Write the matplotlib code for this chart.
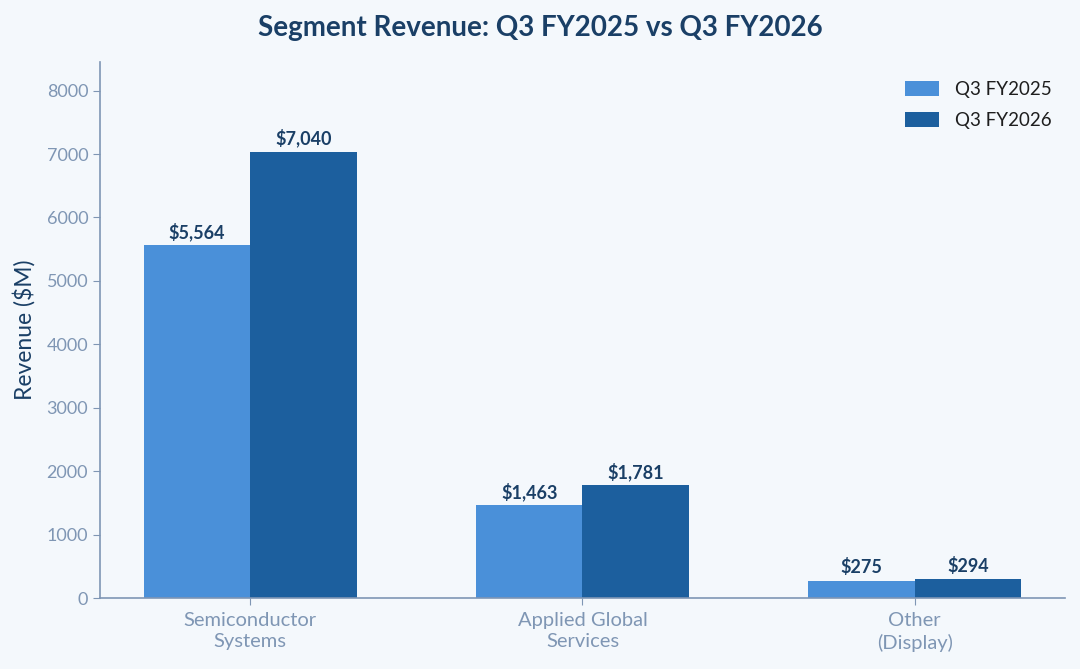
import matplotlib
matplotlib.use("Agg")
import matplotlib.pyplot as plt
import numpy as np

categories = ["Semiconductor\nSystems", "Applied Global\nServices", "Other\n(Display)"]
q3_fy2025 = [5564, 1463, 275]
q3_fy2026 = [7040, 1781, 294]
series_names = ["Q3 FY2025", "Q3 FY2026"]

BG = "#f4f8fc"
C1 = "#4a90d9"
C2 = "#1c5f9e"
NAVY = "#1a3f66"
TICK = "#7f96b4"

plt.rcParams['font.family'] = ['Lato', 'DejaVu Sans']

fig = plt.figure(figsize=(10.8, 6.69), dpi=100, facecolor=BG)
ax = fig.add_axes([0.0926, 0.106, 0.8934, 0.801])
ax.set_facecolor(BG)

x = np.arange(len(categories))
w = 0.32
b1 = ax.bar(x - w/2, q3_fy2025, w, color=C1, label=series_names[0])
b2 = ax.bar(x + w/2, q3_fy2026, w, color=C2, label=series_names[1])

for bars in (b1, b2):
    for r in bars:
        v = r.get_height()
        ax.annotate(f"${v:,.0f}", (r.get_x() + r.get_width()/2, v),
                    xytext=(0, 3), textcoords="offset points",
                    ha="center", va="bottom", fontsize=13, fontweight="bold", color=NAVY)

ax.set_ylim(0, max(q3_fy2026) * 1.2)
ax.set_yticks(np.arange(0, 8001, 1000))
ax.set_xticks(x)
ax.set_xticklabels(categories, fontsize=14.5, linespacing=1.3)
ax.tick_params(axis="both", colors=TICK, length=5)
ax.tick_params(axis="y", labelsize=13)
ax.tick_params(axis="x", pad=5)
for s in ("top", "right"):
    ax.spines[s].set_visible(False)
for s in ("left", "bottom"):
    ax.spines[s].set_color(TICK)
    ax.spines[s].set_linewidth(1.2)

ax.set_ylabel("Revenue ($M)", fontsize=16.5, color=NAVY, labelpad=8)
fig.suptitle("Segment Revenue: Q3 FY2025 vs Q3 FY2026", fontsize=20, fontweight="bold",
             color=NAVY, y=0.978)

leg = ax.legend(loc="upper right", frameon=False, fontsize=13.5, handlelength=1.85,
                handleheight=0.8, labelspacing=0.75, handletextpad=0.85,
                borderaxespad=0.6, bbox_to_anchor=(1.006, 1.0))
for t in leg.get_texts():
    t.set_color("#1e1e1e")

fig.savefig("out.png", dpi=100, facecolor=BG)
